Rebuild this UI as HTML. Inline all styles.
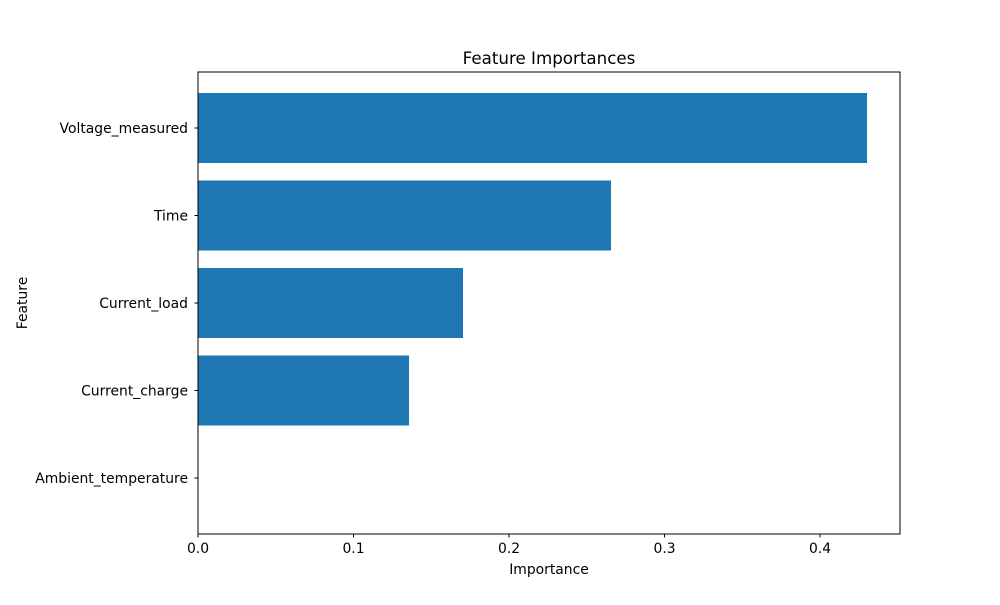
<!DOCTYPE html>
<html><head><meta charset="utf-8"><style>
html,body{margin:0;padding:0;background:#fff;}
svg text{font-family:"DejaVu Sans","Liberation Sans",sans-serif;fill:#000;}
</style></head><body>
<svg id="chart" width="1000" height="600" viewBox="0 0 1000 600">
<rect width="1000" height="600" fill="#fff"/>
<text x="549" y="64" font-size="16.7" text-anchor="middle">Feature Importances</text>
<text x="549" y="574" font-size="13.9" text-anchor="middle">Importance</text>
<text x="27" y="303" font-size="13.9" text-anchor="middle" transform="rotate(-90 27 303)">Feature</text>
<g id="bars"></g>
<g id="xticks"></g>
<g id="yticks"></g>
<rect x="198" y="72" width="702" height="462" fill="none" stroke="#000" stroke-width="1"/>
</svg>
<script>
const categories = ["Ambient_temperature","Current_charge","Current_load","Time","Voltage_measured"];
const importances = [0.0, 0.1357, 0.1704, 0.2656, 0.4302];
const xTickValues = [0, 0.1, 0.2, 0.3, 0.4];
const xTickLabels = ["0.0","0.1","0.2","0.3","0.4"];

const L=198,R=900,T=72,B=534;
const xMax=0.4514;
const xs=v=>L+(v/xMax)*(R-L);
const yMin=-0.64,yMax=4.64;
const ys=v=>B-(v-yMin)/(yMax-yMin)*(B-T);
const NS="http://www.w3.org/2000/svg";
const bars=document.getElementById('bars');
const xt=document.getElementById('xticks');
const yt=document.getElementById('yticks');

categories.forEach((c,i)=>{
  const r=document.createElementNS(NS,'rect');
  r.setAttribute('x',xs(0));
  r.setAttribute('y',ys(i+0.4));
  r.setAttribute('width',Math.max(0,xs(importances[i])-xs(0)));
  r.setAttribute('height',ys(i-0.4)-ys(i+0.4));
  r.setAttribute('fill','#1f77b4');
  
  
  bars.appendChild(r);
  const tk=document.createElementNS(NS,'line');
  tk.setAttribute('x1',L-3.5);tk.setAttribute('x2',L);
  tk.setAttribute('y1',ys(i));tk.setAttribute('y2',ys(i));
  tk.setAttribute('stroke','#000');
  
  
  yt.appendChild(tk);
  const t=document.createElementNS(NS,'text');
  t.setAttribute('x',L-10);t.setAttribute('y',ys(i)+5);
  t.setAttribute('font-size','13.9');t.setAttribute('text-anchor','end');
  t.textContent=c;
  
  
  yt.appendChild(t);
});
xTickValues.forEach((v,i)=>{
  const tk=document.createElementNS(NS,'line');
  tk.setAttribute('x1',xs(v));tk.setAttribute('x2',xs(v));
  tk.setAttribute('y1',B);tk.setAttribute('y2',B+3.5);
  tk.setAttribute('stroke','#000');
  
  
  xt.appendChild(tk);
  const t=document.createElementNS(NS,'text');
  t.setAttribute('x',xs(v));t.setAttribute('y',B+19);
  t.setAttribute('font-size','13.9');t.setAttribute('text-anchor','middle');
  t.textContent=xTickLabels[i];
  
  
  xt.appendChild(t);
});
</script>
</body></html>
